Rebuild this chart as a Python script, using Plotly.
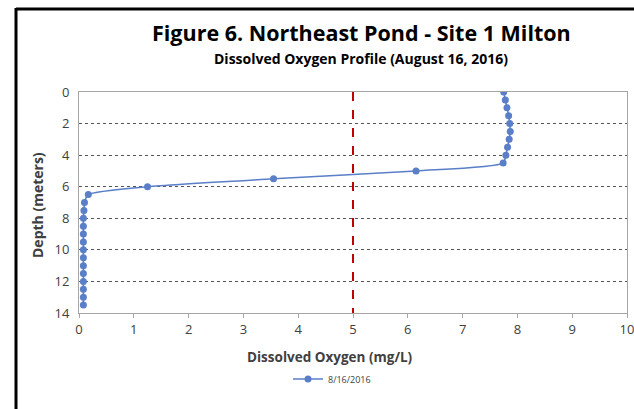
import plotly.graph_objects as go

depth_m = [0, 0.5, 1, 1.5, 2, 2.5, 3, 3.5, 4, 4.5, 5, 5.5, 6, 6.5, 7, 7.5, 8, 8.5,
           9, 9.5, 10, 10.5, 11, 11.5, 12, 12.5, 13, 13.5]
do_mgl = [7.75, 7.78, 7.81, 7.84, 7.86, 7.87, 7.85, 7.82, 7.79, 7.74, 6.15, 3.55,
          1.25, 0.17, 0.10, 0.09, 0.08, 0.08, 0.08, 0.08, 0.08, 0.08, 0.08, 0.08,
          0.08, 0.08, 0.08, 0.08]
do_threshold = 5
series_name = "8/16/2016"
x_ticks = list(range(0, 11))
y_ticks = list(range(0, 15, 2))

W, H = 634, 409
L, R, T, B = 79, 7, 92, 96
pw, ph = W - L - R, H - T - B

def px(x):
    return (x - L) / pw

def py(y):
    return (H - B - y) / ph

blue = "#5A7FC8"
font = "'Open Sans', Lato, sans-serif"

fig = go.Figure()
fig.add_trace(go.Scatter(
    x=[do_threshold, do_threshold], y=[y_ticks[0], y_ticks[-1]], mode="lines",
    line=dict(color="#C00000", width=2, dash="dash"), showlegend=False, hoverinfo="skip"))
fig.add_trace(go.Scatter(
    x=do_mgl, y=depth_m, mode="lines+markers", name=series_name,
    line=dict(color=blue, width=1.6, shape="spline", smoothing=0.6),
    marker=dict(color=blue, size=7)))

fig.update_layout(
    width=W, height=H, margin=dict(l=L, r=R, t=T, b=B),
    paper_bgcolor="white", plot_bgcolor="white",
    font=dict(family=font, color="#404040"),
    showlegend=True,
    legend=dict(orientation="h", x=px(332), xanchor="center", y=py(379), yanchor="middle",
                font=dict(size=9, color="#404040"), bgcolor="rgba(0,0,0,0)"),
    xaxis=dict(range=[0, 10], tickvals=x_ticks, showgrid=False, zeroline=False,
               showline=True, linecolor="#A6A6A6", linewidth=1, mirror=True,
               ticks="outside", ticklen=4, tickcolor="#A6A6A6",
               ticklabeloverflow="allow", automargin=False,
               tickfont=dict(size=13, color="#404040")),
    yaxis=dict(range=[14, 0], tickvals=y_ticks, showgrid=True, gridcolor="#555555",
               griddash="dot", gridwidth=1, zeroline=False, automargin=False,
               showline=True, linecolor="#A6A6A6", linewidth=1, mirror=True,
               ticks="", ticklabelstandoff=6, tickfont=dict(size=13, color="#404040")),
    annotations=[
        dict(text="<b>Figure 6. Northeast Pond - Site 1 Milton</b>", xref="paper", yref="paper",
             x=px(361), y=py(32), xanchor="center", yanchor="middle", showarrow=False,
             font=dict(size=21.5, color="#000000", family=font)),
        dict(text="<b>Dissolved Oxygen Profile (August 16, 2016)</b>", xref="paper", yref="paper",
             x=px(361), y=py(58), xanchor="center", yanchor="middle", showarrow=False,
             font=dict(size=14, color="#000000", family=font)),
        dict(text="<b>Dissolved Oxygen (mg/L)</b>", xref="paper", yref="paper",
             x=px(330), y=py(357), xanchor="center", yanchor="middle", showarrow=False,
             font=dict(size=13.5, color="#404040", family=font)),
        dict(text="<b>Depth (meters)</b>", xref="paper", yref="paper", textangle=-90,
             x=px(37), y=py(205), xanchor="center", yanchor="middle", showarrow=False,
             font=dict(size=14, color="#404040", family=font)),
    ],
    shapes=[
        dict(type="line", xref="paper", yref="paper", x0=px(16), x1=px(640), y0=py(9), y1=py(9),
             line=dict(color="black", width=3)),
        dict(type="line", xref="paper", yref="paper", x0=px(16), x1=px(16), y0=py(8), y1=py(420),
             line=dict(color="black", width=3)),
    ],
)

fig.write_html("out.html", config={"displayModeBar": False},
               post_script="document.body.style.margin='0';document.body.style.overflow='hidden';")
